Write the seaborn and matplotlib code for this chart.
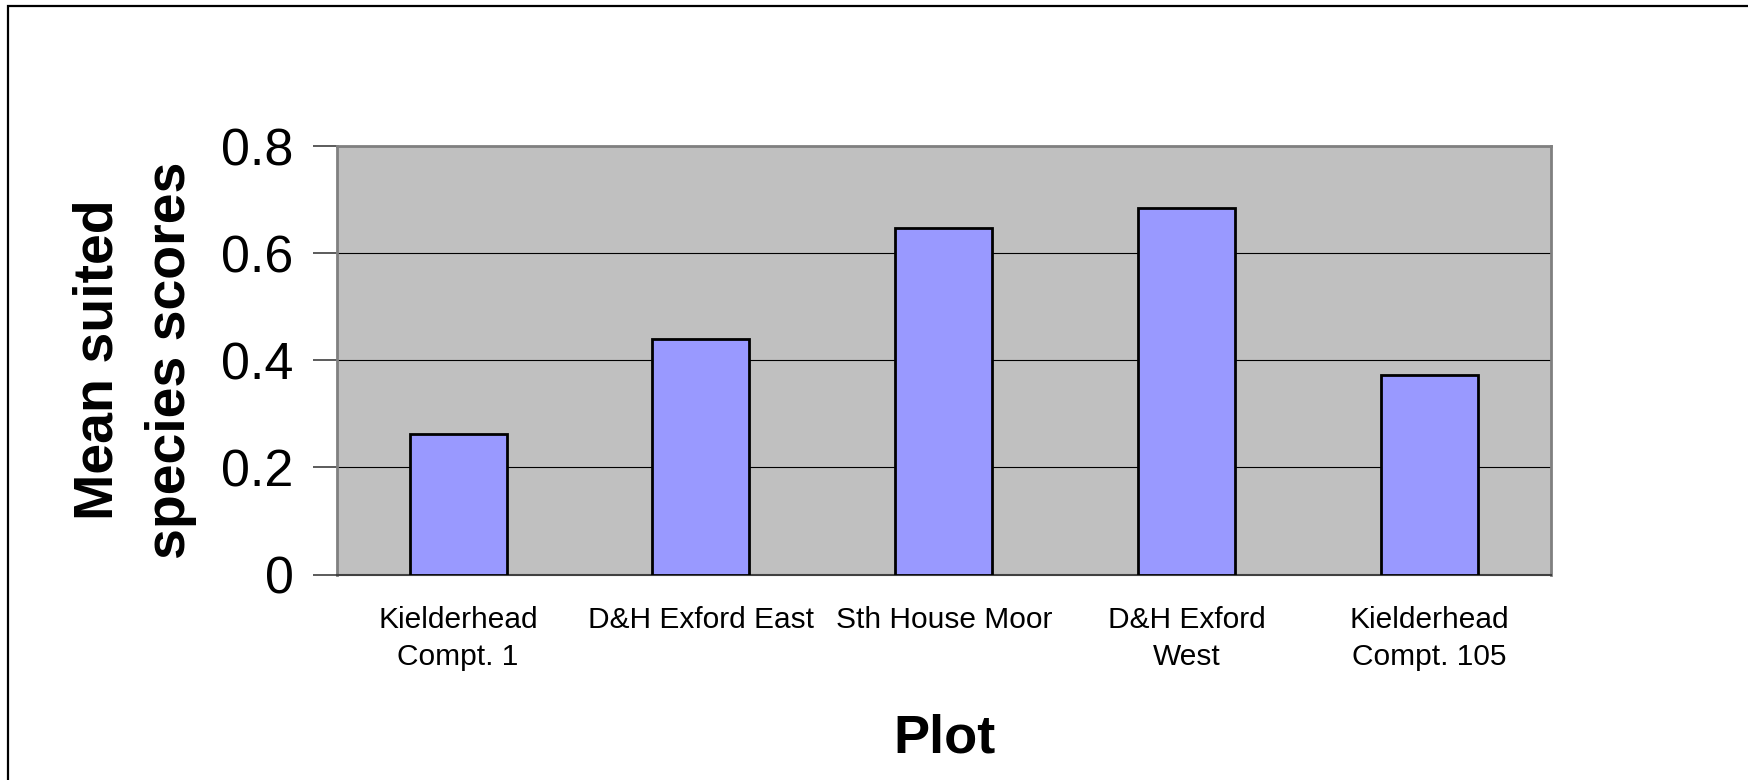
import matplotlib
matplotlib.use("Agg")
import matplotlib.pyplot as plt
import seaborn as sns
import pandas as pd
from matplotlib.patches import Rectangle

# Mean suited species score for each plot
plots = ["Kielderhead\nCompt. 1", "D&H Exford East", "Sth House Moor",
         "D&H Exford\nWest", "Kielderhead\nCompt. 105"]
scores = [0.263, 0.44, 0.646, 0.685, 0.373]
y_ticks = [0, 0.2, 0.4, 0.6, 0.8]
y_tick_labels = ["0", "0.2", "0.4", "0.6", "0.8"]

df = pd.DataFrame({"Plot": plots, "Score": scores})

sns.set_style("white")
plt.rcParams["font.family"] = ["Liberation Sans", "DejaVu Sans"]
plt.rcParams["text.color"] = "black"
plt.rcParams["xtick.color"] = "black"
plt.rcParams["ytick.color"] = "black"
plt.rcParams["xtick.labelcolor"] = "black"
plt.rcParams["ytick.labelcolor"] = "black"

W, H = 1748, 780
fig = plt.figure(figsize=(W / 100, H / 100), dpi=100)
fig.patch.set_facecolor("white")

# outer chart frame
fig.add_artist(Rectangle((8 / W, -0.1), 1.2, 1 - 6 / H + 0.1,
                         transform=fig.transFigure, fill=False,
                         edgecolor="black", linewidth=1.6))

left, right, top, bottom = 336.7, 1550.7, 146, 574.5
ax = fig.add_axes([left / W, 1 - bottom / H, (right - left) / W, (bottom - top) / H])
ax.set_facecolor("#C0C0C0")

sns.barplot(data=df, x="Plot", y="Score", ax=ax, color="#9999FF",
            saturation=1, width=0.4, edgecolor="black", linewidth=2.0,
            zorder=3)

ax.set_ylim(0, 0.8)
ax.set_xlim(-0.5, len(plots) - 0.5)
ax.set_yticks(y_ticks)
ax.set_yticklabels(y_tick_labels, fontsize=37.5, color="black")
ax.yaxis.grid(True, color="black", linewidth=0.8, zorder=1)
ax.set_axisbelow(True)

# category labels at bar centres, tick marks at category boundaries
ax.set_xticks(range(len(plots)))
ax.set_xticklabels(plots, fontsize=21.5, linespacing=1.4, color="black")
ax.set_xticks([i - 0.5 for i in range(len(plots) + 1)], minor=True)
ax.tick_params(axis="x", which="major", length=0, pad=23)
ax.tick_params(axis="x", which="minor", length=10, width=1.2,
               color="#404040", direction="out")
ax.tick_params(axis="y", which="major", length=17, width=1.2,
               color="#404040", direction="out", pad=14)
ax.tick_params(axis="both", bottom=True, left=True)

for side in ("top", "right", "left"):
    ax.spines[side].set_color("#808080")
    ax.spines[side].set_linewidth(2)
ax.spines["bottom"].set_color("#404040")
ax.spines["bottom"].set_linewidth(1.5)

ax.set_xlabel("")
ax.set_ylabel("")

fig.text(135 / W, 1 - 360 / H, "Mean suited\nspecies scores", rotation=90,
         ha="center", va="center", multialignment="center",
         fontsize=40, fontweight="bold", linespacing=1.5, color="black")
fig.text(945 / W, 1 - 752.7 / H, "Plot", ha="center", va="baseline",
         fontsize=39, fontweight="bold", color="black")

fig.savefig("out.png", dpi=100)
